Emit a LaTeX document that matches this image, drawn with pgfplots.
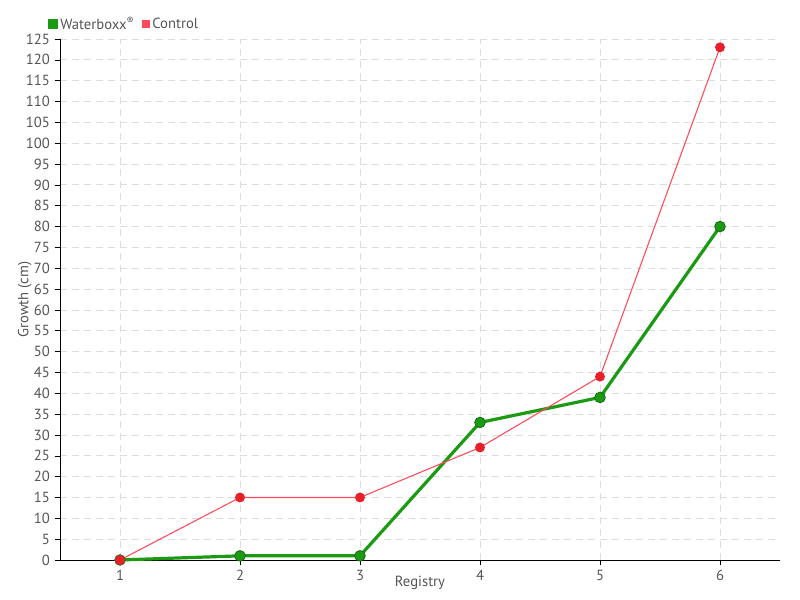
\documentclass[border=0pt]{standalone}
\usepackage{fontspec}
\setmainfont{PT Sans}
\usepackage{pgfplots}
\pgfplotsset{compat=1.18}
\definecolor{wbgreen}{HTML}{1C9A14}
\definecolor{ctred}{HTML}{E8202A}
\definecolor{ctline}{HTML}{FF4A5A}
\definecolor{txtgray}{HTML}{555555}
\definecolor{gridgray}{HTML}{DDDDDD}
\begin{document}
\begin{tikzpicture}[x=0.75pt,y=0.75pt]
\path[use as bounding box] (-60,-40) rectangle (740,560);
\begin{axis}[
  at={(0,0)}, anchor=south west,
  scale only axis,
  width=540pt, height=390.75pt,
  xmin=0.5, xmax=6.5, ymin=0, ymax=125,
  xtick={1,...,6}, ytick={0,5,...,125},
  axis x line*=bottom, axis y line*=left,
  axis line style={black,thin,-},
  tick style={black,thin},
  tick align=outside,
  major tick length=4pt,
  grid=major,
  major grid style={gridgray,dashed,dash pattern=on 5pt off 4pt,line width=0.6pt},
  font=\fontsize{11}{12}\selectfont,
  ticklabel style={txtgray},
  /pgf/number format/assume math mode=true,
  xlabel={Registry}, ylabel={Growth (cm)},
  xlabel style={txtgray,yshift=10pt},
  ylabel style={txtgray,yshift=-11pt},
  legend style={draw=none,fill=none,at={(-12pt,402pt)},anchor=west,
    legend columns=2,font=\fontsize{11}{12}\selectfont\color{txtgray},
    /tikz/every even column/.append style={column sep=4pt},
    legend cell align=left},
  legend image code/.code={\fill[#1] (0pt,-2.3pt) rectangle (4.6pt,2.3pt);},
  clip=false,
]
\addplot[wbgreen,line width=2.4pt,mark=*,mark size=4pt,
  mark options={fill=wbgreen,draw=wbgreen!70!black,line width=0.6pt}]
  coordinates {(1,0)(2,1)(3,1)(4,33)(5,39)(6,80)};
\addlegendentry{Waterboxx\textsuperscript{\textregistered}}
\addplot[ctline,line width=0.8pt,mark=*,mark size=3.3pt,
  mark options={fill=ctred,draw=ctred}]
  coordinates {(1,0)(2,15)(3,15)(4,27)(5,44)(6,123)};
\addlegendentry{Control}
\end{axis}
\end{tikzpicture}
\end{document}
